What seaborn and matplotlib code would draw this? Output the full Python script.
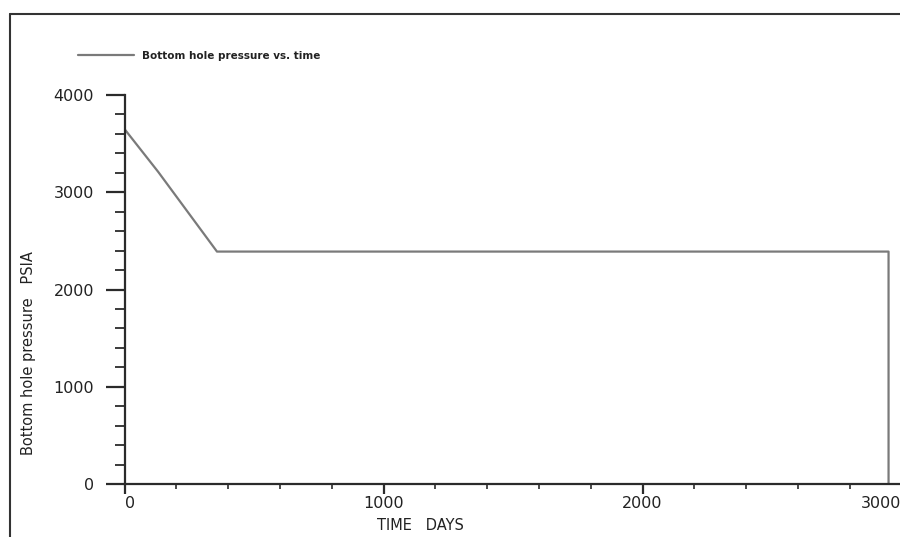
import matplotlib
matplotlib.use("Agg")
import matplotlib.pyplot as plt
from matplotlib.lines import Line2D
from matplotlib.ticker import MultipleLocator
import seaborn as sns
import pandas as pd

# Bottom hole pressure history
time_days = [0, 130, 357, 2950, 2950]
pressure_psia = [3650, 3210, 2390, 2390, 0]
x_ticks = [0, 1000, 2000, 3000]
y_ticks = [0, 1000, 2000, 3000, 4000]
series_label = "Bottom hole pressure vs. time"

df = pd.DataFrame({"time": time_days, "pressure": pressure_psia})

sns.set_style("white")
plt.rcParams["font.family"] = ["DejaVu Sans"]

axis_color = "#2b2b2b"
line_color = "#7a7a7a"
text_color = "#222222"

fig = plt.figure(figsize=(9.0, 5.37), dpi=100)
fig.patch.set_facecolor("white")
ax = fig.add_axes([124.5 / 900, 1 - 484 / 537, 777 / 900, (484 - 95) / 537])
ax.set_facecolor("white")

sns.lineplot(data=df, x="time", y="pressure", sort=False, estimator=None,
             color=line_color, linewidth=1.6, ax=ax, label=series_label)

ax.set_xlim(0, 3000)
ax.set_ylim(0, 4000)

for side in ("top", "right"):
    ax.spines[side].set_visible(False)
for side in ("left", "bottom"):
    ax.spines[side].set_color(axis_color)
    ax.spines[side].set_linewidth(1.6)

ax.set_xticks(x_ticks)
ax.set_yticks(y_ticks)
ax.xaxis.set_minor_locator(MultipleLocator(200))
ax.yaxis.set_minor_locator(MultipleLocator(200))

ax.tick_params(axis="both", which="both", bottom=True, left=True,
               top=False, right=False)
ax.tick_params(axis="y", which="major", direction="out", length=14, width=1.6,
               color=axis_color, labelsize=11.5, labelcolor=text_color, pad=8)
ax.tick_params(axis="y", which="minor", direction="out", length=7, width=1.3,
               color=axis_color)
ax.tick_params(axis="x", which="major", direction="out", length=7, width=1.6,
               color=axis_color, labelsize=11.5, labelcolor=text_color, pad=2)
ax.tick_params(axis="x", which="minor", direction="out", length=3.6, width=1.2,
               color=axis_color)

xlabels = ax.get_xticklabels()
xlabels[-1].set_horizontalalignment("right")
xlabels[0].set_horizontalalignment("left")

ax.set_xlabel("")
ax.set_ylabel("")
fig.text(420 / 900, 1 - 525 / 537, "TIME   DAYS", ha="center", va="center",
         fontsize=10.5, color=text_color)
fig.text(29 / 900, 1 - 353 / 537, "Bottom hole pressure   PSIA", ha="center",
         va="center", rotation=90, fontsize=10.5, color=text_color)

leg = ax.legend(loc="upper left", bbox_to_anchor=(78 / 900, 1 - 51 / 537),
                bbox_transform=fig.transFigure, frameon=False, borderpad=0,
                borderaxespad=0, handlelength=5.4, handletextpad=0.7,
                prop={"size": 7.5, "weight": "bold"})
for t in leg.get_texts():
    t.set_color(text_color)

# Outer frame along the top and left edges
fig.add_artist(Line2D([10 / 900, 10 / 900], [0, 1 - 14 / 537],
                      transform=fig.transFigure, color="#333333", linewidth=1.5))
fig.add_artist(Line2D([10 / 900, 1], [1 - 14 / 537, 1 - 14 / 537],
                      transform=fig.transFigure, color="#333333", linewidth=1.5))

fig.savefig("out.png", dpi=100, facecolor="white")
